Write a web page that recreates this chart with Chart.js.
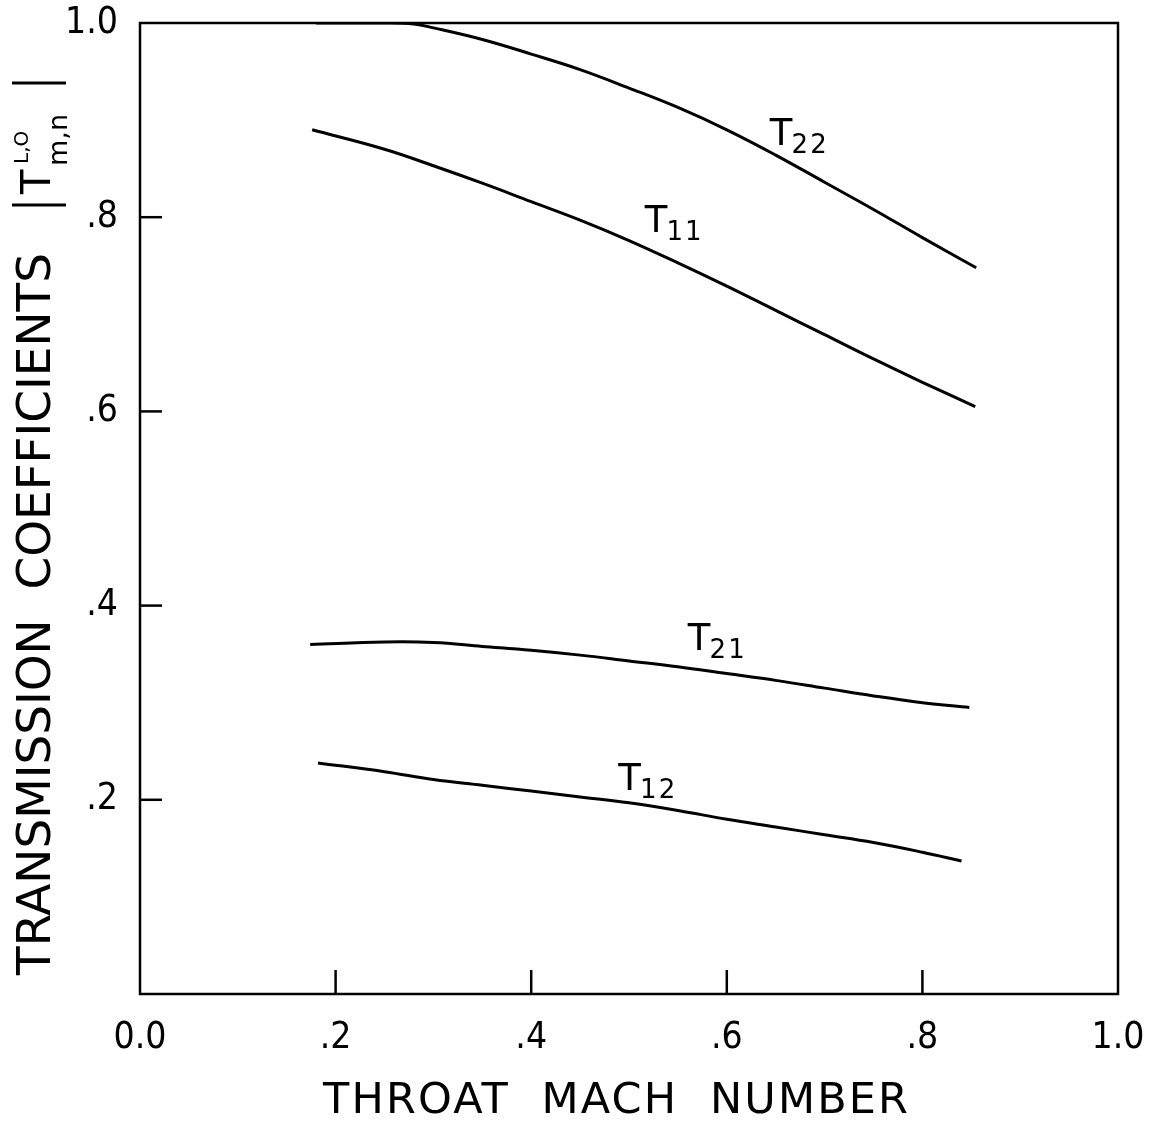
<!DOCTYPE html>
<html>
<head>
<meta charset="utf-8">
<script src="https://cdn.jsdelivr.net/npm/chart.js@4.4.0/dist/chart.umd.min.js"></script>
<style>
  html, body { margin: 0; padding: 0; background: #fff; }
  #wrap { width: 1150px; height: 1124px; }
</style>
</head>
<body>
<div id="wrap"><canvas id="tcChart" width="1150" height="1124"></canvas></div>
<script>
// values
const machT22 = [0.18, 0.25, 0.28, 0.30, 0.35, 0.40, 0.45, 0.50, 0.55, 0.60, 0.65, 0.70, 0.75, 0.80, 0.855];
const t22     = [1.0, 1.0, 0.999, 0.995, 0.983, 0.968, 0.952, 0.933, 0.913, 0.890, 0.864, 0.836, 0.808, 0.779, 0.748];

const machT11 = [0.176, 0.25, 0.30, 0.35, 0.40, 0.45, 0.50, 0.55, 0.60, 0.65, 0.70, 0.75, 0.80, 0.854];
const t11     = [0.890, 0.870, 0.853, 0.835, 0.816, 0.797, 0.776, 0.753, 0.729, 0.704, 0.679, 0.654, 0.630, 0.605];

const machT21 = [0.174, 0.25, 0.30, 0.35, 0.40, 0.45, 0.50, 0.55, 0.60, 0.65, 0.70, 0.75, 0.80, 0.848];
const t21     = [0.360, 0.3625, 0.362, 0.358, 0.354, 0.349, 0.343, 0.337, 0.330, 0.323, 0.315, 0.307, 0.300, 0.295];

const machT12 = [0.182, 0.25, 0.30, 0.35, 0.40, 0.45, 0.50, 0.55, 0.60, 0.65, 0.70, 0.75, 0.80, 0.84];
const t12     = [0.238, 0.229, 0.221, 0.215, 0.209, 0.203, 0.197, 0.189, 0.180, 0.172, 0.164, 0.156, 0.146, 0.137];

const xTickLabels = {0: '0.0', 2: '.2', 4: '.4', 6: '.6', 8: '.8', 10: '1.0'};
const yTickLabels = {0: '', 2: '.2', 4: '.4', 6: '.6', 8: '.8', 10: '1.0'};

// curve labels: name, subscript, anchor in data units
const curveLabels = [
  {main: 'T', sub: '22', x: 0.644, y: 0.874},
  {main: 'T', sub: '11', x: 0.516, y: 0.785},
  {main: 'T', sub: '21', x: 0.560, y: 0.354},
  {main: 'T', sub: '12', x: 0.489, y: 0.210}
];

const FONT = '"DejaVu Sans", "Liberation Sans", sans-serif';
const TICKFONT = '"DejaVu Sans Condensed", "DejaVu Sans", sans-serif';
const pts = (xs, ys) => xs.map((x, i) => ({x: x, y: ys[i]}));

const series = [
  {label: 'T22', data: pts(machT22, t22)},
  {label: 'T11', data: pts(machT11, t11)},
  {label: 'T21', data: pts(machT21, t21)},
  {label: 'T12', data: pts(machT12, t12)}
];

// box, inward tick marks, axis titles, curve labels
const decorations = {
  id: 'decorations',
  afterDraw(chart) {
    const ctx = chart.ctx;
    const a = chart.chartArea;
    const xs = chart.scales.x, ys = chart.scales.y;
    ctx.save();
    ctx.strokeStyle = '#000';
    ctx.fillStyle = '#000';
    ctx.lineWidth = 2.5;
    ctx.strokeRect(a.left, a.top, a.right - a.left, a.bottom - a.top);

    // ticks pointing into the plot
    xs.ticks.forEach(t => {
      if (t.value <= 0.001 || t.value >= 0.999) return;
      const px = xs.getPixelForValue(t.value);
      ctx.beginPath(); ctx.moveTo(px, a.bottom); ctx.lineTo(px, a.bottom - 24); ctx.stroke();
    });
    ys.ticks.forEach(t => {
      if (t.value <= 0.001 || t.value >= 0.999) return;
      const py = ys.getPixelForValue(t.value);
      ctx.beginPath(); ctx.moveTo(a.left, py); ctx.lineTo(a.left + 22, py); ctx.stroke();
    });

    // x title
    const xt = 'THROAT  MACH  NUMBER';
    ctx.font = '43px ' + FONT;
    ctx.letterSpacing = '0px';
    let w = ctx.measureText(xt).width;
    let ls = (585 - w) / (xt.length - 1);
    ctx.letterSpacing = ls + 'px';
    ctx.textAlign = 'left';
    ctx.textBaseline = 'alphabetic';
    ctx.fillText(xt, a.left + 183, a.bottom + 119);

    // y title, rotated
    ctx.save();
    ctx.translate(a.left - 90, a.bottom - 19);
    ctx.rotate(-Math.PI / 2);
    const yt = 'TRANSMISSION  COEFFICIENTS';
    ctx.font = '47px ' + FONT;
    ctx.letterSpacing = '0px';
    w = ctx.measureText(yt).width;
    ls = (722 - w) / (yt.length - 1);
    ctx.letterSpacing = ls + 'px';
    ctx.fillText(yt, 0, 0);
    ctx.letterSpacing = '0px';
    ctx.lineWidth = 3;
    ctx.beginPath(); ctx.moveTo(770, -38); ctx.lineTo(770, 16); ctx.stroke();
    ctx.font = '40px ' + FONT;
    ctx.fillText('T', 781, 0);
    ctx.font = '20px ' + FONT;
    ctx.fillText('L,O', 811, -22);
    ctx.font = '27px ' + FONT;
    ctx.fillText('m,n', 809, 17);
    ctx.beginPath(); ctx.moveTo(892, -38); ctx.lineTo(892, 16); ctx.stroke();
    ctx.restore();

    // curve labels
    curveLabels.forEach(l => {
      const px = xs.getPixelForValue(l.x);
      const py = ys.getPixelForValue(l.y);
      ctx.font = '37px ' + FONT;
      ctx.fillText(l.main, px, py);
      const tw = ctx.measureText(l.main).width;
      ctx.font = '26px ' + FONT;
      ctx.fillText(l.sub, px + tw - 3, py + 8);
    });
    ctx.restore();
  }
};

new Chart(document.getElementById('tcChart').getContext('2d'), {
  type: 'line',
  data: {
    datasets: series.map(s => ({
      label: s.label,
      data: s.data,
      borderColor: '#000',
      borderWidth: 3,
      pointRadius: 0,
      fill: false,
      tension: 0.4
    }))
  },
  options: {
    responsive: false,
    animation: false,
    layout: {padding: {left: 0, right: 32, top: 23, bottom: 0}},
    plugins: {legend: {display: false}, tooltip: {enabled: false}},
    scales: {
      x: {
        type: 'linear', min: 0, max: 1,
        grid: {display: false, drawTicks: false}, border: {display: false},
        afterFit: s => { s.height = 130; s.paddingLeft = 0; s.paddingRight = 0; },
        ticks: {
          stepSize: 0.2, color: '#000', padding: 22, maxRotation: 0,
          font: {family: TICKFONT, size: 37},
          callback: v => xTickLabels[Math.round(v * 10)]
        }
      },
      y: {
        type: 'linear', min: 0, max: 1,
        grid: {display: false, drawTicks: false}, border: {display: false},
        afterFit: s => { s.width = 140; s.paddingTop = 0; s.paddingBottom = 0; },
        ticks: {
          stepSize: 0.2, color: '#000', padding: 22,
          font: {family: TICKFONT, size: 37},
          callback: v => yTickLabels[Math.round(v * 10)]
        }
      }
    }
  },
  plugins: [decorations]
});
</script>
</body>
</html>
